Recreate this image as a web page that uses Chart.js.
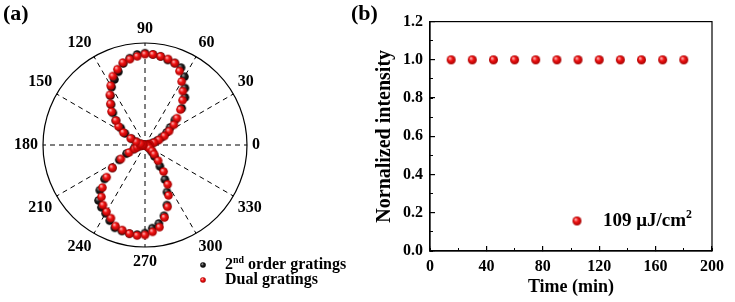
<!DOCTYPE html>
<html>
<head>
<meta charset="utf-8">
<script src="https://cdn.jsdelivr.net/npm/chart.js@4.4.1/dist/chart.umd.min.js"></script>
<style>
  html, body { margin: 0; padding: 0; background: #fff; }
  #wrap { position: relative; width: 735px; height: 302px; overflow: hidden; }
  .box { position: absolute; top: 0; }
  .tag { position: absolute; top: 0; font: bold 22px 'Liberation Serif', 'Times New Roman', serif; color: #000; }
</style>
</head>
<body>
<div id="wrap">
  <canvas id="polarChart" class="box" style="left:0" width="360" height="302"></canvas>
  <canvas id="timeChart" class="box" style="left:360px" width="375" height="302"></canvas>
  <div class="tag" style="left:3px">(a)</div>
  <div class="tag" style="left:351px">(b)</div>
</div>
<script>
// (a) polarisation scan, angle in degrees
const angles = [0, 5, 10, 15, 20, 25, 30, 35, 40, 45, 50, 55, 60, 65, 70, 75, 80, 85,
  90, 95, 100, 105, 110, 115, 120, 125, 130, 135, 140, 145, 150, 155, 160, 165, 170, 175,
  180, 185, 190, 195, 200, 205, 210, 215, 220, 225, 230, 235, 240, 245, 250, 255, 260, 265,
  270, 275, 280, 285, 290, 295, 300, 305, 310, 315, 320, 325, 330, 335, 340, 345, 350, 355];
const secondOrder = [0.02, 0.03, 0.05, 0.09, 0.14, 0.20, 0.27, 0.33, 0.42, 0.56, 0.67, 0.75, 0.85, 0.92, 0.94, 0.95, 0.97, 0.98,
  0.99, 0.98, 0.95, 0.91, 0.84, 0.78, 0.72, 0.65, 0.57, 0.49, 0.41, 0.32, 0.25, 0.16, 0.10, 0.05, 0.03, 0.02,
  0.02, 0.03, 0.05, 0.09, 0.13, 0.22, 0.32, 0.43, 0.57, 0.69, 0.78, 0.82, 0.85, 0.90, 0.95, 0.96, 0.97, 0.97,
  0.95, 0.90, 0.86, 0.79, 0.69, 0.56, 0.43, 0.28, 0.16, 0.11, 0.08, 0.05, 0.04, 0.03, 0.02, 0.02, 0.02, 0.02];
const dualGratings = [0.02, 0.03, 0.05, 0.10, 0.16, 0.23, 0.30, 0.38, 0.45, 0.54, 0.63, 0.71, 0.79, 0.88, 0.94, 0.96, 0.97, 0.98,
  0.98, 0.96, 0.94, 0.92, 0.87, 0.82, 0.74, 0.66, 0.58, 0.51, 0.41, 0.35, 0.27, 0.17, 0.10, 0.05, 0.03, 0.02,
  0.02, 0.03, 0.05, 0.09, 0.12, 0.19, 0.30, 0.43, 0.54, 0.65, 0.73, 0.79, 0.83, 0.87, 0.93, 0.95, 0.97, 0.98,
  0.97, 0.94, 0.90, 0.81, 0.71, 0.60, 0.49, 0.35, 0.22, 0.14, 0.10, 0.06, 0.04, 0.03, 0.02, 0.02, 0.02, 0.02];
const angleTicks = [0, 30, 60, 90, 120, 150, 180, 210, 240, 270, 300, 330];

// (b) stability over time
const times = [15, 30, 45, 60, 75, 90, 105, 120, 135, 150, 165, 180];
const intensity = [1.0, 1.0, 1.0, 1.0, 1.0, 1.0, 1.0, 1.0, 1.0, 1.0, 1.0, 1.0];

Chart.defaults.font.family = "'Liberation Serif', 'Times New Roman', serif";
Chart.defaults.font.weight = 'bold';
Chart.defaults.color = '#000';

// shaded ball used as point marker
function ball(r, light, mid, dark) {
  const c = document.createElement('canvas');
  const s = Math.ceil(r * 2) + 2;
  c.width = c.height = s;
  const g = c.getContext('2d');
  const m = s / 2;
  const grad = g.createRadialGradient(m - r * 0.35, m - r * 0.4, r * 0.05, m, m, r);
  grad.addColorStop(0, light);
  grad.addColorStop(0.45, mid);
  grad.addColorStop(1, dark);
  g.fillStyle = grad;
  g.beginPath();
  g.arc(m, m, r, 0, Math.PI * 2);
  g.fill();
  return c;
}
const redBall = ball(4.3, '#ffc4c4', '#f21414', '#a30000');
const blackBall = ball(4.3, '#a0a0a0', '#222', '#000');

const dotLegend = {
  id: 'dotLegend',
  afterDraw(chart, args, opts) {
    const ctx = chart.ctx;
    ctx.save();
    ctx.fillStyle = '#000';
    ctx.textBaseline = 'middle';
    opts.items.forEach(item => {
      const img = item.ball;
      ctx.drawImage(img, item.x - img.width / 2, item.y - img.height / 2);
      let x = item.x + opts.gap;
      item.parts.forEach(p => {
        const size = p.sup ? opts.size * 0.62 : opts.size;
        ctx.font = "bold " + size + "px 'Liberation Serif', 'Times New Roman', serif";
        ctx.fillText(p.text, x, p.sup ? item.y - opts.size * 0.3 : item.y);
        x += ctx.measureText(p.text).width;
      });
    });
    ctx.restore();
  }
};

const frame = {
  id: 'frame',
  afterDraw(chart) {
    const {ctx, chartArea: a} = chart;
    ctx.save();
    ctx.strokeStyle = '#000';
    ctx.lineWidth = 1.2;
    ctx.strokeRect(a.left, a.top, a.right - a.left, a.bottom - a.top);
    ctx.restore();
  }
};

// radar runs clockwise from the top, so walk the angles 90, 85, ... 0, 355, ... 95
const start = angles.indexOf(90);
const clockwise = angles.map((_, i) => angles[(start - i + angles.length) % angles.length]);
const pick = arr => clockwise.map(a => arr[angles.indexOf(a)]);

new Chart(document.getElementById('polarChart'), {
  type: 'radar',
  data: {
    labels: clockwise.map(String),
    datasets: [
      { label: '2nd order gratings', data: pick(secondOrder), pointStyle: blackBall, showLine: false, order: 1 },
      { label: 'Dual gratings', data: pick(dualGratings), pointStyle: redBall, showLine: false, order: 0 }
    ]
  },
  options: {
    responsive: false,
    animation: false,
    layout: { padding: { left: 6, right: 92, top: 14, bottom: 26 } },
    elements: {
      line: { borderWidth: 0, fill: false },
      point: { radius: 4.3, hoverRadius: 4.3 }
    },
    plugins: {
      legend: { display: false },
      tooltip: { enabled: false },
      dotLegend: {
        size: 16, gap: 22,
        items: [
          { ball: ball(2.8, '#b0b0b0', '#222', '#000'), x: 203, y: 265,
            parts: [{ text: '2' }, { text: 'nd', sup: true }, { text: ' order gratings' }] },
          { ball: ball(2.8, '#ffc4c4', '#f21414', '#a30000'), x: 203, y: 280,
            parts: [{ text: 'Dual gratings' }] }
        ]
      }
    },
    scales: {
      r: {
        min: 0,
        max: 1.1,
        startAngle: 0,
        ticks: { display: false, count: 2 },
        grid: { circular: true, color: '#000', lineWidth: 1.2 },
        angleLines: {
          color: '#000',
          lineWidth: ctx => ctx.label === '' ? 0 : 1,
          borderDash: [5, 4]
        },
        pointLabels: {
          padding: 5,
          color: '#000',
          font: { size: 16, weight: 'bold' },
          callback: l => angleTicks.includes(Number(l)) ? l : ''
        }
      }
    }
  },
  plugins: [dotLegend]
});

new Chart(document.getElementById('timeChart'), {
  type: 'scatter',
  data: {
    datasets: [{
      label: '109 μJ/cm²',
      data: times.map((t, i) => ({ x: t, y: intensity[i] })),
      pointStyle: ball(4.5, '#ffc4c4', '#f21414', '#a30000'),
      radius: 4.5
    }]
  },
  options: {
    responsive: false,
    animation: false,
    layout: { padding: { left: 10, right: 16, top: 21, bottom: 0 } },
    plugins: {
      legend: { display: false },
      tooltip: { enabled: false },
      dotLegend: {
        size: 19, gap: 26,
        items: [
          { ball: ball(4.5, '#ffc4c4', '#f21414', '#a30000'), x: 217, y: 221,
            parts: [{ text: '109 μJ/cm' }, { text: '2', sup: true }] }
        ]
      }
    },
    scales: {
      x: {
        type: 'linear', position: 'bottom', min: 0, max: 200,
        ticks: { stepSize: 40, padding: 11, font: { size: 16, weight: 'bold' } },
        grid: { drawOnChartArea: false, tickLength: -5, color: '#000', lineWidth: 1.2 },
        border: { color: '#000', width: 1.2 },
        title: { display: true, text: 'Time (min)', font: { size: 18, weight: 'bold' }, padding: { top: 0, bottom: 4 } },
        afterFit: s => { s.height = 51; }
      },
      y: {
        type: 'linear', position: 'left', min: 0, max: 1.2,
        ticks: { stepSize: 0.2, padding: 12, font: { size: 16, weight: 'bold' }, callback: v => v.toFixed(1) },
        grid: { drawOnChartArea: false, tickLength: -5, color: '#000', lineWidth: 1.2 },
        border: { color: '#000', width: 1.2 },
        title: { display: true, text: 'Nornalized intensity', font: { size: 20, weight: 'bold' }, padding: { top: 3, bottom: 0 } },
        afterFit: s => { s.width = 60; }
      },
      xMinor: {
        axis: 'x', type: 'linear', position: { y: 0 }, min: 0, max: 200,
        ticks: { display: false, stepSize: 20 },
        grid: { drawOnChartArea: false, tickLength: -3, color: '#000', lineWidth: 1 },
        border: { display: false }
      },
      yMinor: {
        axis: 'y', type: 'linear', position: { x: 0 }, min: 0, max: 1.2,
        ticks: { display: false, stepSize: 0.1 },
        grid: { drawOnChartArea: false, tickLength: -3, color: '#000', lineWidth: 1 },
        border: { display: false }
      }
    }
  },
  plugins: [dotLegend, frame]
});
</script>
</body>
</html>
